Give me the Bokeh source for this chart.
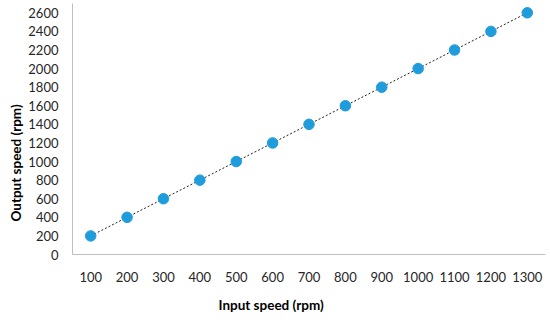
from bokeh.plotting import figure
from bokeh.models import Range1d, FixedTicker, Title
from bokeh.embed import file_html
from bokeh.resources import INLINE

input_speed = [100, 200, 300, 400, 500, 600, 700, 800, 900, 1000, 1100, 1200, 1300]
output_speed = [200, 400, 600, 800, 1000, 1200, 1400, 1600, 1800, 2000, 2200, 2400, 2600]
x_ticks = [100, 200, 300, 400, 500, 600, 700, 800, 900, 1000, 1100, 1200, 1300]
y_ticks = [0, 200, 400, 600, 800, 1000, 1200, 1400, 1600, 1800, 2000, 2200, 2400, 2600]
x_title = "Input speed (rpm)"
y_title = "Output speed (rpm)"

p = figure(width=550, height=322, output_backend="svg", toolbar_location=None,
           x_range=Range1d(50, 1350), y_range=Range1d(0, 2700),
           min_border_left=72, min_border_right=5, min_border_top=3, min_border_bottom=67)
p.outline_line_color = None
p.xgrid.grid_line_color = None
p.ygrid.grid_line_color = None

p.line(input_speed, output_speed, line_color="#222222", line_width=1, line_dash="2 2")
p.scatter(input_speed, output_speed, size=10.5, fill_color="#1e9cdb", line_color="#1e9cdb")

for ax in (p.xaxis[0], p.yaxis[0]):
    ax.axis_line_color = "#bfbfbf"
    ax.major_tick_line_color = None
    ax.minor_tick_line_color = None
    ax.major_label_text_font = "Lato"
    ax.major_label_text_font_size = "13px"
    ax.major_label_text_color = "#262626"

p.xaxis.ticker = FixedTicker(ticks=x_ticks)
p.yaxis.ticker = FixedTicker(ticks=y_ticks)
p.xaxis.major_label_standoff = 11
p.yaxis.major_label_standoff = 8

common = dict(text_font="Lato", text_font_size="13.5px", text_font_style="bold",
              text_color="#000000")
p.add_layout(Title(text=x_title, align="left", offset=146, standoff=20, **common), "below")
p.add_layout(Title(text=y_title, align="left", offset=33, standoff=4, **common), "left")

open("out.html", "w").write(file_html(p, INLINE))
